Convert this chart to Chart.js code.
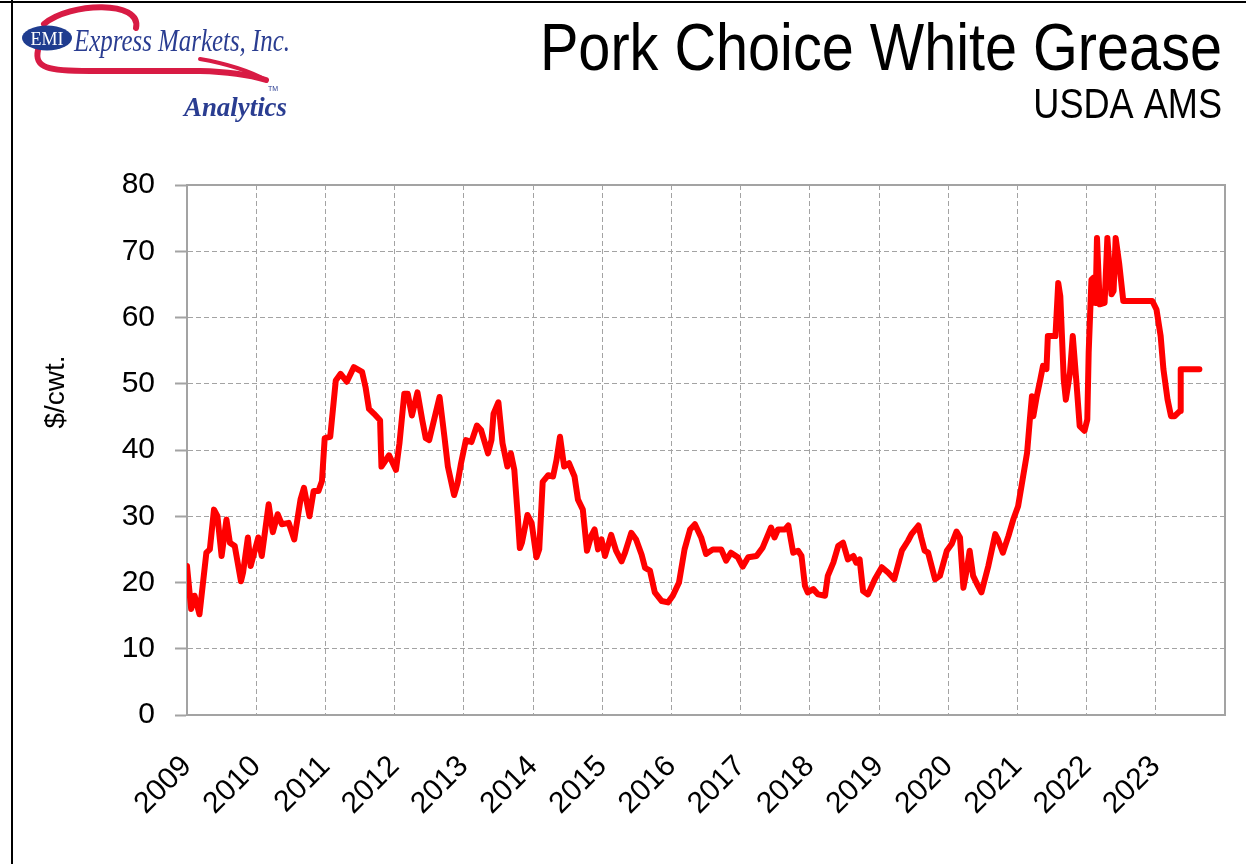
<!DOCTYPE html>
<html>
<head>
<meta charset="utf-8">
<script src="https://cdn.jsdelivr.net/npm/chart.js@4"></script>
<style>
  html, body { margin: 0; padding: 0; background: #fff; }
  #chart { display: block; }
</style>
</head>
<body>
<canvas id="chart" width="1246" height="864"></canvas>
<script>
// weekly-ish readings, decimal year -> $/cwt.
const dates = [
  2009.00, 2009.06, 2009.11, 2009.18, 2009.28, 2009.33, 2009.39, 2009.44, 2009.50, 2009.57,
  2009.62, 2009.69, 2009.78, 2009.81, 2009.88, 2009.92, 2010.03, 2010.08, 2010.18, 2010.24,
  2010.31, 2010.37, 2010.47, 2010.55, 2010.64, 2010.69, 2010.77, 2010.83, 2010.90, 2010.95,
  2010.99, 2011.07, 2011.15, 2011.22, 2011.31, 2011.41, 2011.53, 2011.58, 2011.63, 2011.70,
  2011.79, 2011.81, 2011.92, 2012.02, 2012.07, 2012.14, 2012.19, 2012.25, 2012.33, 2012.40,
  2012.45, 2012.50, 2012.65, 2012.72, 2012.77, 2012.86, 2012.91, 2012.96, 2013.03, 2013.11,
  2013.19, 2013.25, 2013.35, 2013.40, 2013.43, 2013.50, 2013.56, 2013.63, 2013.68, 2013.73,
  2013.78, 2013.81, 2013.84, 2013.92, 2013.98, 2014.05, 2014.09, 2014.14, 2014.22, 2014.29,
  2014.34, 2014.39, 2014.45, 2014.52, 2014.60, 2014.65, 2014.72, 2014.78, 2014.84, 2014.89,
  2014.94, 2014.99, 2015.04, 2015.13, 2015.20, 2015.28, 2015.33, 2015.42, 2015.49, 2015.57,
  2015.62, 2015.69, 2015.76, 2015.86, 2015.95, 2016.02, 2016.11, 2016.19, 2016.27, 2016.34,
  2016.43, 2016.50, 2016.60, 2016.72, 2016.79, 2016.86, 2016.96, 2017.03, 2017.11, 2017.23,
  2017.32, 2017.40, 2017.44, 2017.49, 2017.54, 2017.64, 2017.69, 2017.76, 2017.83, 2017.88,
  2017.93, 2017.97, 2018.05, 2018.12, 2018.22, 2018.26, 2018.34, 2018.41, 2018.48, 2018.55,
  2018.63, 2018.67, 2018.72, 2018.77, 2018.84, 2018.94, 2019.04, 2019.13, 2019.22, 2019.33,
  2019.42, 2019.47, 2019.57, 2019.61, 2019.66, 2019.71, 2019.81, 2019.88, 2019.98, 2020.05,
  2020.12, 2020.17, 2020.22, 2020.27, 2020.31, 2020.36, 2020.43, 2020.48, 2020.58, 2020.68,
  2020.72, 2020.79, 2020.87, 2020.94, 2021.01, 2021.06, 2021.14, 2021.18, 2021.21, 2021.23,
  2021.28, 2021.33, 2021.37, 2021.42, 2021.44, 2021.55, 2021.59, 2021.62, 2021.67, 2021.70,
  2021.76, 2021.80, 2021.85, 2021.90, 2021.97, 2022.01, 2022.03, 2022.07, 2022.10, 2022.13,
  2022.15, 2022.19, 2022.26, 2022.30, 2022.36, 2022.39, 2022.42, 2022.47, 2022.53, 2022.95,
  2023.01, 2023.07, 2023.11, 2023.17, 2023.22, 2023.27, 2023.35, 2023.36, 2023.63
];
const prices = [
  22.5, 16.0, 18.0, 15.2, 24.5, 25.0, 31.0, 30.0, 24.0, 29.5,
  26.0, 25.5, 20.2, 21.5, 26.8, 22.5, 26.8, 24.0, 31.8, 27.6,
  30.3, 28.8, 29.0, 26.5, 32.5, 34.3, 30.0, 33.8, 33.8, 35.3,
  41.8, 42.0, 50.5, 51.5, 50.3, 52.5, 51.8, 49.5, 46.2, 45.5,
  44.5, 37.5, 39.2, 37.0, 41.0, 48.5, 48.5, 45.2, 48.7, 44.5,
  41.8, 41.5, 48.0, 42.0, 37.5, 33.2, 35.0, 38.0, 41.5, 41.2,
  43.7, 43.0, 39.5, 41.5, 45.5, 47.2, 41.0, 37.5, 39.5, 37.0,
  30.0, 25.2, 26.0, 30.2, 29.0, 23.8, 25.0, 35.2, 36.2, 36.0,
  38.5, 42.0, 37.5, 38.0, 36.0, 32.5, 31.0, 24.8, 27.0, 28.0,
  25.0, 26.5, 24.0, 27.2, 24.8, 23.2, 24.5, 27.5, 26.5, 24.2,
  22.2, 21.8, 18.5, 17.2, 17.0, 18.0, 20.0, 25.0, 28.0, 28.8,
  26.8, 24.3, 25.0, 25.0, 23.3, 24.5, 23.8, 22.4, 23.8, 24.0,
  25.3, 27.3, 28.3, 26.8, 28.0, 28.0, 28.6, 24.5, 24.8, 24.0,
  19.5, 18.5, 19.0, 18.2, 18.0, 21.0, 23.0, 25.5, 26.0, 23.5,
  24.0, 23.0, 23.5, 18.7, 18.2, 20.5, 22.3, 21.5, 20.5, 24.8,
  26.3, 27.3, 28.6, 26.8, 24.8, 24.5, 20.5, 21.0, 24.8, 25.8,
  27.7, 26.8, 19.2, 22.0, 24.8, 21.0, 19.5, 18.5, 22.5, 27.3,
  26.5, 24.5, 27.0, 29.5, 31.5, 34.6, 39.6, 44.6, 48.1, 45.1,
  48.1, 50.6, 52.7, 52.2, 57.2, 57.2, 65.2, 63.2, 50.6, 47.6,
  51.7, 57.2, 50.6, 43.6, 42.9, 44.6, 54.7, 65.7, 66.0, 62.2,
  72.0, 62.0, 62.2, 72.0, 63.5, 64.0, 72.0, 68.2, 62.5, 62.5,
  61.2, 57.2, 52.2, 47.6, 45.1, 45.1, 45.9, 52.2, 52.2
];
const yearMin = 2009;
const yearMax = 2024;   // last gridline, no label
const priceMax = 80;

const chartTitle = 'Pork Choice White Grease';
const chartSubtitle = 'USDA AMS';
const yTitle = '$/cwt.';

const FONT = '"Liberation Sans", Arial, sans-serif';
const SERIF = '"Liberation Serif", "Times New Roman", serif';

function drawLogo(ctx) {
  ctx.save();
  // red swoosh behind the oval
  ctx.strokeStyle = '#d81b44';
  ctx.lineWidth = 6;
  ctx.lineCap = 'round';
  ctx.lineJoin = 'round';
  ctx.beginPath();
  ctx.moveTo(136, 28);
  ctx.bezierCurveTo(142, 0, 70, 2, 44, 24);
  ctx.stroke();
  ctx.beginPath();
  ctx.moveTo(38, 50);
  ctx.bezierCurveTo(34, 68, 48, 71, 90, 71);
  ctx.lineTo(200, 71);
  ctx.quadraticCurveTo(240, 72, 266, 80);
  ctx.stroke();
  ctx.lineWidth = 4;
  ctx.beginPath();
  ctx.moveTo(200, 59);
  ctx.quadraticCurveTo(240, 66, 266, 80);
  ctx.stroke();

  // EMI oval
  ctx.fillStyle = '#1f3c8f';
  ctx.beginPath();
  ctx.ellipse(47, 38, 25, 12.5, 0, 0, Math.PI * 2);
  ctx.fill();
  ctx.fillStyle = '#fff';
  ctx.font = '18px ' + SERIF;
  ctx.textAlign = 'center';
  ctx.textBaseline = 'alphabetic';
  ctx.fillText('EMI', 47, 45, 42);

  ctx.fillStyle = '#2a3d91';
  ctx.textAlign = 'left';
  ctx.font = 'italic 32px ' + SERIF;
  ctx.fillText('Express Markets, Inc.', 74, 51, 216);
  ctx.font = 'italic bold 28px ' + SERIF;
  ctx.fillText('Analytics', 184, 116, 103);
  ctx.font = '7px ' + FONT;
  ctx.fillText('TM', 268, 91);
  ctx.restore();
}

const decor = {
  id: 'decor',
  beforeDatasetsDraw(chart) {
    const { ctx, chartArea: a } = chart;
    ctx.save();
    ctx.strokeStyle = '#a3a3a3';
    ctx.lineWidth = 2;
    ctx.strokeRect(a.left, a.top, a.right - a.left, a.bottom - a.top);
    ctx.restore();
  },
  afterDraw(chart) {
    const { ctx, chartArea: a } = chart;
    ctx.save();
    // page frame (top and left)
    ctx.fillStyle = '#000';
    ctx.fillRect(0, 1, 1246, 2);
    ctx.fillRect(11, 0, 2, 864);

    // title block, slightly condensed like the original
    ctx.fillStyle = '#000';
    ctx.textAlign = 'right';
    ctx.textBaseline = 'alphabetic';
    ctx.save();
    ctx.translate(1222, 0);
    ctx.scale(0.86, 1);
    ctx.font = '67px ' + FONT;
    ctx.fillText(chartTitle, 0, 70);
    ctx.font = '42px ' + FONT;
    ctx.fillText(chartSubtitle, 0, 118);
    ctx.restore();

    // y axis title
    ctx.save();
    ctx.translate(64, (a.top + a.bottom) / 2 - 58);
    ctx.rotate(-Math.PI / 2);
    ctx.textAlign = 'center';
    ctx.font = '28px ' + FONT;
    ctx.fillText(yTitle, 0, 0);
    ctx.restore();

    drawLogo(ctx);
    ctx.restore();
  }
};

new Chart(document.getElementById('chart'), {
  type: 'line',
  data: {
    datasets: [{
      data: dates.map((d, i) => ({ x: d, y: prices[i] })),
      borderColor: '#ff0000',
      borderWidth: 6,
      pointRadius: 0,
      tension: 0,
      borderJoinStyle: 'round',
      borderCapStyle: 'round',
      fill: false
    }]
  },
  options: {
    responsive: false,
    animation: false,
    layout: { padding: { top: 185, right: 21, left: 0, bottom: 0 } },
    plugins: {
      legend: { display: false },
      tooltip: { enabled: false }
    },
    scales: {
      x: {
        type: 'linear',
        min: yearMin,
        max: yearMax,
        afterFit(scale) {
          scale.height = 149;
          scale.paddingLeft = 0;
          scale.paddingRight = 0;
        },
        afterBuildTicks(scale) {
          const t = [];
          for (let y = yearMin; y <= yearMax; y++) t.push({ value: y });
          scale.ticks = t;
        },
        ticks: {
          autoSkip: false,
          minRotation: 45,
          maxRotation: 45,
          padding: 34,
          color: '#000',
          font: { family: FONT, size: 30 },
          callback: (v) => (v === yearMax ? '' : String(v))
        },
        grid: {
          color: '#a3a3a3',
          lineWidth: 1,
          drawTicks: false,
          tickLength: 0
        },
        border: { display: true, color: '#a3a3a3', width: 2, dash: [5, 3] }
      },
      y: {
        min: 0,
        max: priceMax,
        afterFit(scale) { scale.width = 187; },
        ticks: {
          stepSize: 10,
          padding: 20,
          color: '#000',
          font: { family: FONT, size: 30 }
        },
        grid: {
          color: '#a3a3a3',
          lineWidth: 1,
          tickLength: 12,
          tickColor: '#a3a3a3',
          tickWidth: 2,
          tickBorderDash: []
        },
        border: { display: true, color: '#a3a3a3', width: 2, dash: [5, 3] }
      }
    }
  },
  plugins: [decor]
});
</script>
</body>
</html>
